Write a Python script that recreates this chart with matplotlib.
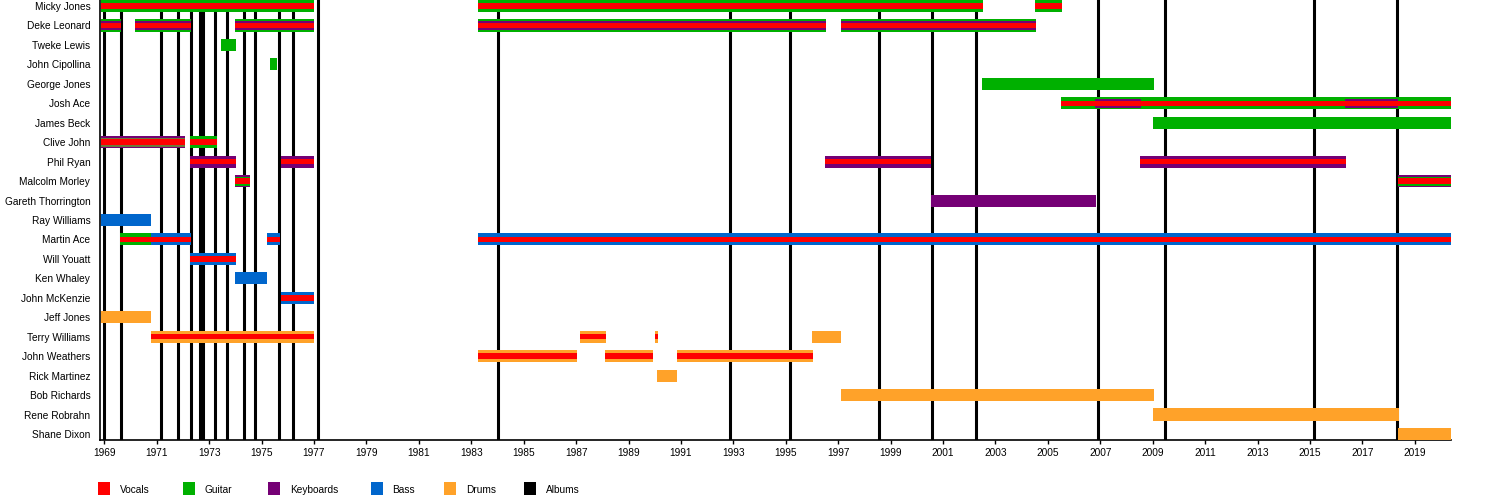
import matplotlib
matplotlib.use("Agg")
import matplotlib.pyplot as plt
from matplotlib.patches import Rectangle

plt.rcParams['font.family'] = ['Liberation Sans', 'DejaVu Sans']

# ---------------- data ----------------
members = ["Micky Jones", "Deke Leonard", "Tweke Lewis", "John Cipollina", "George Jones",
           "Josh Ace", "James Beck", "Clive John", "Phil Ryan", "Malcolm Morley",
           "Gareth Thorrington", "Ray Williams", "Martin Ace", "Will Youatt", "Ken Whaley",
           "John McKenzie", "Jeff Jones", "Terry Williams", "John Weathers", "Rick Martinez",
           "Bob Richards", "Rene Robrahn", "Shane Dixon"]

instrument_colors = {
    "Vocals": "#FF0000",
    "Guitar": "#00B000",
    "Keyboards": "#750075",
    "Bass": "#0066CC",
    "Drums": "#FFA229",
    "Albums": "#000000",
    "Rhythm": "#6B7A3A",
}

legend_labels = ["Vocals", "Guitar", "Keyboards", "Bass", "Drums", "Albums"]

# each segment: member, start, end, main instrument, secondary instrument (or None), vocals
seg_member = [
    "Micky Jones", "Micky Jones", "Micky Jones",
    "Deke Leonard", "Deke Leonard", "Deke Leonard", "Deke Leonard", "Deke Leonard",
    "Tweke Lewis", "John Cipollina", "George Jones",
    "Josh Ace", "Josh Ace", "Josh Ace", "Josh Ace", "Josh Ace",
    "James Beck",
    "Clive John", "Clive John",
    "Phil Ryan", "Phil Ryan", "Phil Ryan", "Phil Ryan",
    "Malcolm Morley", "Malcolm Morley",
    "Gareth Thorrington", "Ray Williams",
    "Martin Ace", "Martin Ace", "Martin Ace", "Martin Ace",
    "Will Youatt", "Ken Whaley", "John McKenzie", "Jeff Jones",
    "Terry Williams", "Terry Williams", "Terry Williams", "Terry Williams",
    "John Weathers", "John Weathers", "John Weathers",
    "Rick Martinez", "Bob Richards", "Rene Robrahn", "Shane Dixon",
]
seg_start = [
    1968.87, 1983.27, 2004.51,
    1968.87, 1970.17, 1973.99, 1983.27, 1997.10,
    1973.45, 1975.32, 2002.50,
    2005.50, 2006.80, 2008.55, 2016.35, 2018.35,
    2009.00,
    1968.87, 1972.27,
    1972.27, 1975.74, 1996.50, 2008.52,
    1973.99, 2018.35,
    2000.55, 1968.87,
    1969.60, 1970.80, 1975.21, 1983.27,
    1972.27, 1974.00, 1975.74, 1968.87,
    1970.80, 1987.15, 1990.00, 1996.00,
    1983.27, 1988.10, 1990.85,
    1990.10, 1997.10, 2009.00, 2018.35,
]
seg_end = [
    1977.00, 2002.53, 2005.54,
    1969.64, 1972.31, 1977.00, 1996.54, 2004.55,
    1974.03, 1975.59, 2009.05,
    2006.80, 2008.55, 2016.35, 2018.35, 2020.38,
    2020.38,
    1972.08, 1973.30,
    1974.03, 1977.00, 2000.55, 2016.38,
    1974.56, 2020.38,
    2006.85, 1970.80,
    1970.80, 1972.31, 1975.70, 2020.38,
    1974.03, 1975.21, 1977.00, 1970.80,
    1977.00, 1988.14, 1990.12, 1997.10,
    1987.03, 1989.94, 1996.04,
    1990.85, 2009.05, 2018.38, 2020.38,
]
seg_main = [
    "Guitar", "Guitar", "Guitar",
    "Guitar", "Guitar", "Guitar", "Guitar", "Guitar",
    "Guitar", "Guitar", "Guitar",
    "Guitar", "Guitar", "Guitar", "Guitar", "Guitar",
    "Guitar",
    "Keyboards", "Guitar",
    "Keyboards", "Keyboards", "Keyboards", "Keyboards",
    "Keyboards", "Keyboards",
    "Keyboards", "Bass",
    "Guitar", "Bass", "Bass", "Bass",
    "Bass", "Bass", "Bass", "Drums",
    "Drums", "Drums", "Drums", "Drums",
    "Drums", "Drums", "Drums",
    "Drums", "Drums", "Drums", "Drums",
]
seg_second = [
    None, None, None,
    "Keyboards", "Keyboards", "Keyboards", "Keyboards", "Keyboards",
    None, None, None,
    None, "Keyboards", None, "Keyboards", None,
    None,
    "Rhythm", None,
    None, None, None, None,
    "Guitar", "Guitar",
    None, None,
    None, None, None, None,
    None, None, None, None,
    None, None, None, None,
    None, None, None,
    None, None, None, None,
]
seg_vocals = [
    True, True, True,
    True, True, True, True, True,
    False, False, False,
    True, True, True, True, True,
    False,
    True, True,
    True, True, True, True,
    True, True,
    False, False,
    True, True, True, True,
    True, False, True, False,
    True, True, True, False,
    True, True, True,
    False, False, False, False,
]

album_years = [1969.00, 1969.65, 1971.17, 1971.82, 1972.32, 1972.67, 1972.76, 1973.24,
               1973.67, 1974.34, 1974.76, 1975.68, 1976.19, 1977.16, 1984.02, 1992.89,
               1995.17, 1998.54, 2000.57, 2002.26, 2006.93, 2009.47, 2015.15, 2018.33]

tick_years = list(range(1969, 2020, 2))

# ---------------- plot ----------------
fig = plt.figure(figsize=(15, 5), dpi=100)
ax = fig.add_axes([100 / 1500, 60 / 500, 1351 / 1500, 440 / 500])

row_of = {m: i for i, m in enumerate(members)}

for yr in album_years:
    ax.axvline(yr, color=instrument_colors["Albums"], lw=2.2, zorder=1)

H_MAIN, H_SECOND, H_VOC = 0.62, 0.46, 0.28
for m, s, e, mi, se, v in zip(seg_member, seg_start, seg_end, seg_main, seg_second, seg_vocals):
    y = row_of[m]
    ax.barh(y, e - s, left=s, height=H_MAIN, color=instrument_colors[mi], lw=0, zorder=3)
    if se is not None:
        ax.barh(y, e - s, left=s, height=H_SECOND, color=instrument_colors[se], lw=0, zorder=4)
    if v:
        ax.barh(y, e - s, left=s, height=H_VOC, color=instrument_colors["Vocals"], lw=0, zorder=5)

ax.set_xlim(1968.836, 2020.38)
ax.set_ylim(len(members) - 1 + 0.31, -0.31)

ax.set_yticks(range(len(members)))
ax.set_yticklabels(members, fontsize=7.3)
ax.tick_params(axis='y', length=0, pad=7)

ax.set_xticks(tick_years)
ax.set_xticklabels([str(t) for t in tick_years], fontsize=7.3)
ax.tick_params(axis='x', length=3, width=1, pad=3)

for sp in ["top", "right"]:
    ax.spines[sp].set_visible(False)
for sp in ["left", "bottom"]:
    ax.spines[sp].set_linewidth(1.2)

# legend
sq_x = [98, 183, 268, 371, 444, 524]
lab_x = [120, 204, 290, 392, 466, 546]
for lab, sx, lx in zip(legend_labels, sq_x, lab_x):
    fig.add_artist(Rectangle((sx / 1500, 1 - 495 / 500), 12 / 1500, 13 / 500,
                             transform=fig.transFigure, color=instrument_colors[lab], lw=0))
    fig.text(lx / 1500, 1 - 490 / 500, lab, fontsize=7.3, va='center', ha='left')

fig.savefig("out.png", dpi=100)
